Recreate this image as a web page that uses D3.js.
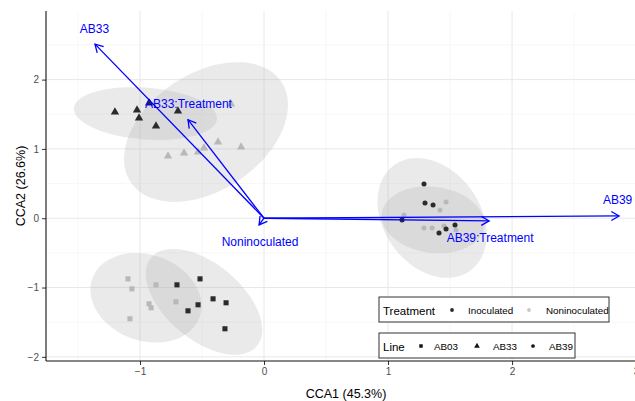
<!DOCTYPE html>
<html>
<head>
<meta charset="utf-8">
<script src="https://cdn.jsdelivr.net/npm/d3@7"></script>
<style>
  body { margin: 0; background: #fff; }
  text { font-family: "Liberation Sans", Arial, sans-serif; }
</style>
</head>
<body>
<div id="graph"></div>
<script>
const svgWidth = 635;
const svgHeight = 401;

const lines = ["AB03", "AB33", "AB39"];
const treatments = ["Inoculated", "Noninoculated"];
const xTicks = [-1, 0, 1, 2, 3];
const yTicks = [-2, -1, 0, 1, 2];

// site scores, [CCA1, CCA2]
const ab03Inoc = [[-0.702, -0.961], [-0.516, -0.875], [-0.411, -1.163], [-0.306, -1.220], [-0.532, -1.249], [-0.613, -1.336], [-0.315, -1.595]];
const ab03Non = [[-1.097, -0.875], [-1.065, -1.019], [-0.871, -0.961], [-0.927, -1.235], [-0.911, -1.292], [-0.710, -1.206], [-1.081, -1.451]];
const ab33Inoc = [[-1.202, 1.532], [-1.024, 1.561], [-1.008, 1.445], [-0.871, 1.330], [-0.694, 1.546], [-0.927, 1.661]];
const ab33Non = [[-0.774, 0.898], [-0.645, 0.941], [-0.532, 0.955], [-0.484, 1.013], [-0.371, 1.100], [-0.185, 1.027], [-0.266, 1.647]];
const ab39Inoc = [[1.290, 0.494], [1.298, 0.220], [1.363, 0.192], [1.113, -0.024], [1.540, -0.097], [1.468, -0.154], [1.411, -0.212]];
const ab39Non = [[1.468, 0.235], [1.419, 0.120], [1.129, 0.048], [1.290, -0.140], [1.355, -0.140], [1.452, -0.111], [1.548, -0.169]];

// ellipses: centre and two conjugate semi-axes, in CCA units
const ellipseGroups = ["AB33 Inoc", "AB33 Non", "AB39 Inoc", "AB39 Non", "AB03 Inoc", "AB03 Non"];
const ellipseCentres = [[-0.956, 1.510], [-0.468, 1.244], [1.355, 0.004], [1.363, -0.024], [-0.484, -1.206], [-0.952, -1.148]];
const ellipseU = [[0.577, -0.078], [0.607, 0.726], [0.305, -0.764], [0.413, -0.096], [0.426, -0.639], [0.432, -0.281]];
const ellipseV = [[-0.016, -0.373], [0.262, -0.700], [-0.317, -0.404], [-0.034, -0.473], [-0.197, -0.419], [-0.119, -0.582]];

// biplot arrows
const arrowNames = ["AB33", "AB33:Treatment", "AB39", "AB39:Treatment", "Noninoculated"];
const arrowEnds = [[-1.363, 2.512], [-0.613, 1.422], [2.863, 0.033], [1.815, -0.039], [-0.040, -0.097]];
const arrowLabelPos = [[-1.367, 2.742], [-0.609, 1.647], [2.851, 0.263], [1.823, -0.284], [-0.032, -0.342]];

const svg = d3.select('#graph').append('svg')
  .attr('width', svgWidth)
  .attr('height', svgHeight);

const x = d3.scaleLinear().domain([-1.758, 3.08]).range([46, 646]);
const y = d3.scaleLinear().domain([-2.06, 2.99]).range([361, 11]);

// grid
const grid = svg.append('g');
const minorX = d3.range(-1.5, 3.1, 1);
const minorY = d3.range(-1.5, 3.0, 1);
grid.selectAll('.mx').data(minorX).enter().append('line')
  .attr('x1', d => x(d)).attr('x2', d => x(d)).attr('y1', 11).attr('y2', 361)
  .style('stroke', '#f3f3f3').style('stroke-width', 0.7);
grid.selectAll('.my').data(minorY).enter().append('line')
  .attr('x1', 46).attr('x2', 646).attr('y1', d => y(d)).attr('y2', d => y(d))
  .style('stroke', '#f3f3f3').style('stroke-width', 0.7);
grid.selectAll('.gx').data(xTicks).enter().append('line')
  .attr('x1', d => x(d)).attr('x2', d => x(d)).attr('y1', 11).attr('y2', 361)
  .style('stroke', '#e8e8e8').style('stroke-width', 1);
grid.selectAll('.gy').data(yTicks).enter().append('line')
  .attr('x1', 46).attr('x2', 646).attr('y1', d => y(d)).attr('y2', d => y(d))
  .style('stroke', '#e8e8e8').style('stroke-width', 1);

// ellipses
const ellipseLine = d3.line().x(d => x(d[0])).y(d => y(d[1])).curve(d3.curveLinearClosed);
svg.append('g').selectAll('path').data(ellipseGroups).enter().append('path')
  .attr('d', (g, i) => {
    const c = ellipseCentres[i], u = ellipseU[i], v = ellipseV[i];
    const pts = d3.range(0, 72).map(k => {
      const t = k / 72 * 2 * Math.PI;
      return [c[0] + u[0] * Math.cos(t) + v[0] * Math.sin(t),
              c[1] + u[1] * Math.cos(t) + v[1] * Math.sin(t)];
    });
    return ellipseLine(pts);
  })
  .style('fill', '#b3b3b3')
  .style('fill-opacity', 0.27)
  .style('stroke', 'none');

// points
const dark = '#2b2b2b';
const light = '#b8b8b8';
const symbolFor = {AB03: d3.symbolSquare, AB33: d3.symbolTriangle, AB39: d3.symbolCircle};
const sizeFor = {AB03: 26, AB33: 30, AB39: 20};
const groups = [
  {line: "AB03", col: light, pts: ab03Non}, {line: "AB03", col: dark, pts: ab03Inoc},
  {line: "AB33", col: light, pts: ab33Non}, {line: "AB33", col: dark, pts: ab33Inoc},
  {line: "AB39", col: light, pts: ab39Non}, {line: "AB39", col: dark, pts: ab39Inoc}
];
groups.forEach(g => {
  svg.append('g').selectAll('path').data(g.pts).enter().append('path')
    .attr('d', d3.symbol().type(symbolFor[g.line]).size(sizeFor[g.line]))
    .attr('transform', d => `translate(${x(d[0])},${y(d[1])})`)
    .style('fill', g.col);
});

// arrows
const arrows = svg.append('g');
const x0 = x(0), y0 = y(0);
arrowNames.forEach((name, i) => {
  const ex = x(arrowEnds[i][0]), ey = y(arrowEnds[i][1]);
  const ang = Math.atan2(ey - y0, ex - x0);
  const hl = 9, ha = Math.PI / 6;
  arrows.append('line')
    .attr('x1', x0).attr('y1', y0).attr('x2', ex).attr('y2', ey)
    .style('stroke', 'blue').style('stroke-width', 1.3);
  arrows.append('path')
    .attr('d', `M${ex - hl * Math.cos(ang - ha)},${ey - hl * Math.sin(ang - ha)}L${ex},${ey}L${ex - hl * Math.cos(ang + ha)},${ey - hl * Math.sin(ang + ha)}`)
    .style('fill', 'none').style('stroke', 'blue').style('stroke-width', 1.3);
  arrows.append('text')
    .attr('x', x(arrowLabelPos[i][0])).attr('y', y(arrowLabelPos[i][1]))
    .attr('dy', '0.36em')
    .attr('text-anchor', 'middle')
    .style('font-size', '12px')
    .style('fill', 'blue')
    .text(name);
});

// axes
const fmt = d3.format('d');
const yAxis = d3.axisLeft(y).tickValues(yTicks).tickFormat(fmt).tickSize(4).tickPadding(3);
const gy = svg.append('g').attr('transform', 'translate(46,0)').call(yAxis);
const xAxis = d3.axisBottom(x).tickValues(xTicks).tickFormat(fmt).tickSize(4).tickPadding(3);
const gx = svg.append('g').attr('transform', 'translate(0,361)').call(xAxis);
[gx, gy].forEach(g => {
  g.select('.domain').remove();
  g.selectAll('.tick line').style('stroke', '#333');
  g.selectAll('.tick text').style('font-size', '10px').style('fill', '#4d4d4d')
    .style('font-family', '"Liberation Sans", Arial, sans-serif');
});
svg.append('line').attr('x1', 46).attr('x2', 46).attr('y1', 11).attr('y2', 361)
  .style('stroke', '#111').style('stroke-width', 1.1);
svg.append('line').attr('x1', 46).attr('x2', 646).attr('y1', 361).attr('y2', 361)
  .style('stroke', '#111').style('stroke-width', 1.1);

svg.append('text').attr('x', 346).attr('y', 398).attr('text-anchor', 'middle')
  .style('font-size', '12.5px').text('CCA1 (45.3%)');
svg.append('text').attr('transform', 'translate(25,186) rotate(-90)').attr('text-anchor', 'middle')
  .style('font-size', '12.5px').text('CCA2 (26.6%)');

// legends
const leg1 = svg.append('g');
leg1.append('rect').attr('x', 379).attr('y', 297).attr('width', 230).attr('height', 25)
  .style('fill', '#fff').style('stroke', '#333').style('stroke-width', 1);
leg1.append('text').attr('x', 383).attr('y', 314.5).style('font-size', '11.5px').text('Treatment');
const tKeyX = [452, 529], tTextX = [468, 546];
treatments.forEach((t, i) => {
  leg1.append('circle').attr('cx', tKeyX[i]).attr('cy', 310).attr('r', 1.9)
    .style('fill', i === 0 ? dark : '#c8c8c8');
  leg1.append('text').attr('x', tTextX[i]).attr('y', 314).style('font-size', '9.8px').text(t);
});

const leg2 = svg.append('g');
leg2.append('rect').attr('x', 379).attr('y', 333).attr('width', 196).attr('height', 25)
  .style('fill', '#fff').style('stroke', '#333').style('stroke-width', 1);
leg2.append('text').attr('x', 383).attr('y', 350.5).style('font-size', '11.5px').text('Line');
const lKeyX = [421, 477, 533], lTextX = [434, 493, 549];
const legSize = {AB03: 12, AB33: 14, AB39: 11};
lines.forEach((l, i) => {
  leg2.append('path').attr('d', d3.symbol().type(symbolFor[l]).size(legSize[l]))
    .attr('transform', `translate(${lKeyX[i]},346)`).style('fill', '#111');
  leg2.append('text').attr('x', lTextX[i]).attr('y', 350).style('font-size', '9.8px').text(l);
});
</script>
</body>
</html>
